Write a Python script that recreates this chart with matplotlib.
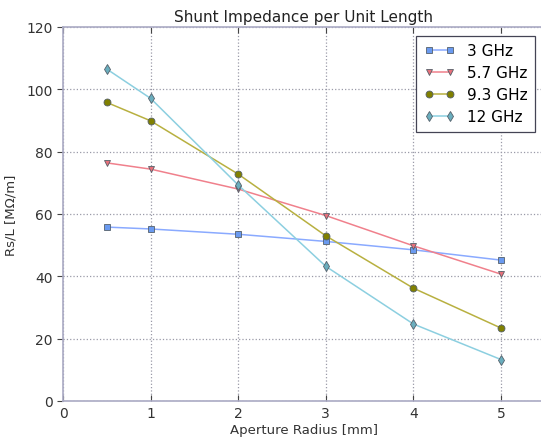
import matplotlib
matplotlib.use("Agg")
import matplotlib.pyplot as plt

radius = [0.5, 1, 2, 3, 4, 5]
labels = ["3 GHz", "5.7 GHz", "9.3 GHz", "12 GHz"]
rs_3 = [55.8, 55.2, 53.5, 51.2, 48.5, 45.2]
rs_57 = [76.4, 74.4, 68.0, 59.5, 49.8, 40.7]
rs_93 = [95.8, 89.9, 72.8, 53.0, 36.2, 23.4]
rs_12 = [106.5, 97.1, 69.3, 43.2, 24.7, 13.3]

series = [rs_3, rs_57, rs_93, rs_12]
markers = ["s", "v", "o", "d"]
line_colors = ["#8aaaff", "#f0808c", "#b8b040", "#8ccfe0"]
face_colors = ["#6a9af0", "#e8707a", "#808000", "#6aaebe"]

fig = plt.figure(figsize=(5.41, 4.39), dpi=100)
ax = fig.add_axes([63/541, 37/439, 481.8/541, 374/439])

for ys, lab, m, lc, fc in zip(series, labels, markers, line_colors, face_colors):
    ax.plot(radius, ys, color=lc, lw=1.1, marker=m, markersize=5,
            markerfacecolor=fc, markeredgecolor="#55606a", markeredgewidth=0.6,
            label=lab)

ax.set_xlim(0, 5.5)
ax.set_ylim(0, 120)
ax.set_xticks([0, 1, 2, 3, 4, 5])
ax.set_yticks([0, 20, 40, 60, 80, 100, 120])
ax.grid(True, linestyle=":", color="#9a9aa8", linewidth=0.9)
for s in ax.spines.values():
    s.set_color("#aaaac4")
    s.set_linewidth(1.2)
ax.tick_params(axis="x", direction="in", top=True, colors="#333333", labelsize=10, length=4)
ax.tick_params(axis="y", direction="out", colors="#333333", labelsize=10, length=4)
ax.tick_params(axis="both", color="#444444")

ax.set_title("Shunt Impedance per Unit Length", fontsize=11, color="#222222", pad=4)
ax.set_xlabel("Aperture Radius [mm]", fontsize=9.5, color="#333333", labelpad=2)
ax.set_ylabel("Rs/L [M\u03a9/m]", fontsize=9.5, color="#333333", labelpad=6)

leg = ax.legend(loc="upper right", bbox_to_anchor=(472/481.8, 0.977), numpoints=2,
                fontsize=11, fancybox=False, framealpha=1, edgecolor="#444455",
                handlelength=2.0, borderpad=0.5, labelspacing=0.45, borderaxespad=0.0)
leg.get_frame().set_linewidth(0.9)

fig.savefig("out.png", dpi=100)
